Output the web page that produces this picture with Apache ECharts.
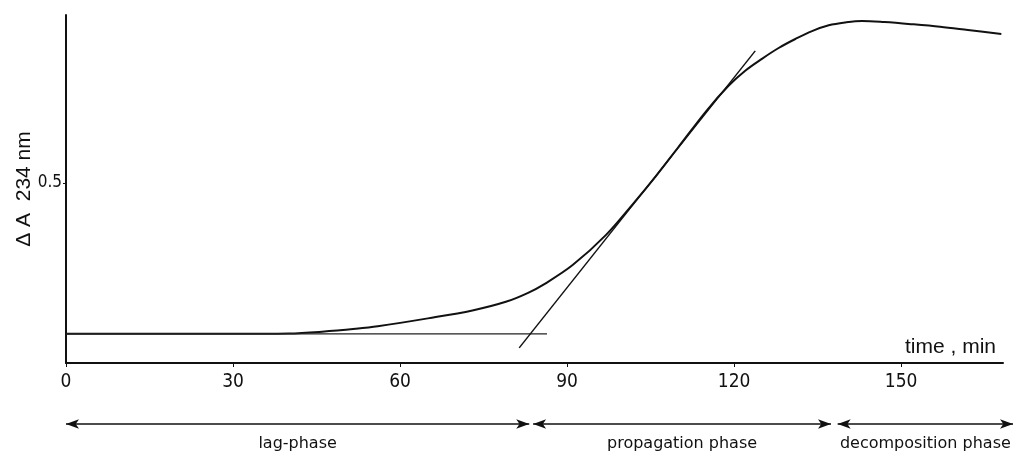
<!DOCTYPE html>
<html>
<head>
<meta charset="utf-8">
<script src="https://cdn.jsdelivr.net/npm/echarts@6/dist/echarts.min.js"></script>
<style>
  html, body { margin: 0; padding: 0; background: #fff; }
  #chart { width: 1020px; height: 455px; }
</style>
</head>
<body>
<div id="chart"></div>
<script>
// Absorbance change at 234 nm during oxidation, sampled along the recorded trace
const timeMin = [0, 10, 20, 30, 40, 46, 52, 56, 65, 73, 79, 83, 86, 91, 97, 102, 106, 110, 115, 119, 122, 125, 128, 131, 134, 137, 140, 143, 147, 152, 157, 162, 168];
const deltaA  = [0.081, 0.081, 0.081, 0.081, 0.082, 0.087, 0.095, 0.102, 0.124, 0.146, 0.170, 0.195, 0.220, 0.272, 0.356, 0.445, 0.520, 0.600, 0.700, 0.770, 0.812, 0.845, 0.875, 0.900, 0.922, 0.938, 0.946, 0.950, 0.947, 0.941, 0.934, 0.925, 0.914];

// Extrapolated lag baseline and tangent through the steepest part of the rise
const baselineT = [0, 86.4];
const baselineA = [0.081, 0.081];
const tangentT  = [81.4, 123.8];
const tangentA  = [0.042, 0.867];

// Reaction phases along the time axis
const phaseNames = ['lag-phase', 'propagation phase', 'decomposition phase'];
const phaseStart = [0, 83.9, 138.6];
const phaseEnd   = [83.2, 137.4, 170.1];

// Tick positions and labelled values
const xTicks = [0, 30, 60, 90, 120, 150];
const yTicks = [0.5];

const ink = '#111';
const numFont = "'DejaVu Sans Condensed', 'Liberation Sans', sans-serif";
const textFont = "'DejaVu Sans', 'Liberation Sans', sans-serif";

const zip = (a, b) => a.map((v, i) => [v, b[i]]);

const chart = echarts.init(document.getElementById('chart'), null, { renderer: 'canvas' });

chart.setOption({
  backgroundColor: '#fff',
  animation: false,
  grid: [
    { left: 66, right: 17, top: 15, bottom: 92, outerBoundsMode: 'none', containLabel: false },
    { left: 66, right: 0, top: 424, height: 20, outerBoundsMode: 'none', containLabel: false }
  ],
  xAxis: [
    {
      gridIndex: 0, type: 'value', min: 0, max: 168.3, interval: 30,
      name: 'time , min', nameLocation: 'end', nameGap: -98,
      nameTextStyle: { color: ink, fontSize: 21, fontFamily: "'Liberation Sans', sans-serif", align: 'left', verticalAlign: 'bottom', padding: [0, 0, 5, 0] },
      axisLine: { show: true, lineStyle: { color: ink, width: 2 } },
      axisTick: { show: true, inside: false, length: 4, customValues: xTicks, lineStyle: { color: ink, width: 1 } },
      axisLabel: { color: ink, fontSize: 19, fontFamily: numFont, margin: 10, customValues: xTicks },
      splitLine: { show: false }
    },
    {
      gridIndex: 1, type: 'value', min: 0, max: 171.35,
      show: false
    }
  ],
  yAxis: [
    {
      gridIndex: 0, type: 'value', min: 0, max: 0.9667, interval: 0.5,
      name: 'Δ A  234 nm', nameLocation: 'middle', nameRotate: 90, nameGap: 31,
      nameMoveOverlap: false,
      nameTextStyle: { color: ink, fontSize: 21, fontFamily: "'Liberation Sans', sans-serif" },
      axisLine: { show: true, lineStyle: { color: ink, width: 2 } },
      axisTick: { show: true, length: 3, customValues: yTicks, lineStyle: { color: ink, width: 1 } },
      axisLabel: { color: ink, fontSize: 17, fontFamily: numFont, margin: 4, customValues: yTicks },
      splitLine: { show: false }
    },
    { gridIndex: 1, type: 'value', min: 0, max: 1, show: false }
  ],
  series: [
    {
      name: 'ΔA', type: 'line', xAxisIndex: 0, yAxisIndex: 0,
      data: zip(timeMin, deltaA), smooth: 0.35, showSymbol: false, silent: true,
      lineStyle: { color: ink, width: 2 }
    },
    {
      name: 'baseline', type: 'line', xAxisIndex: 0, yAxisIndex: 0,
      data: zip(baselineT, baselineA), showSymbol: false, silent: true,
      lineStyle: { color: '#222', width: 1.4 }
    },
    {
      name: 'tangent', type: 'line', xAxisIndex: 0, yAxisIndex: 0,
      data: zip(tangentT, tangentA), showSymbol: false, silent: true,
      lineStyle: { color: ink, width: 1.5 }
    },
    {
      name: 'phases', type: 'line', xAxisIndex: 1, yAxisIndex: 1,
      data: [], silent: true,
      markLine: {
        silent: true, animation: false,
        symbol: ['arrow', 'arrow'], symbolSize: [7, 13],
        label: {
          show: true, position: 'insideMiddleBottom', distance: 12,
          formatter: p => p.name,
          color: ink, fontSize: 16, fontFamily: textFont
        },
        lineStyle: { type: 'solid', color: ink, width: 1.6 },
        data: phaseNames.map((n, i) => [
          { name: n, coord: [phaseStart[i], 1] },
          { coord: [phaseEnd[i], 1] }
        ])
      }
    }
  ]
});
</script>
</body>
</html>
